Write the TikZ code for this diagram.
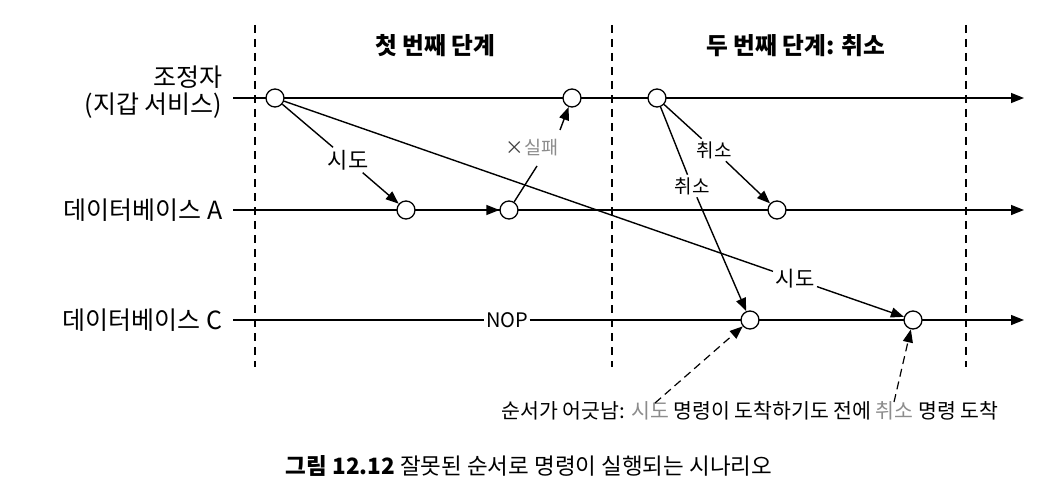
\documentclass[tikz,border=0pt]{standalone}
\usepackage{fontspec}
\setmainfont{Noto Sans CJK KR}
\usetikzlibrary{arrows.meta}
\definecolor{faded}{gray}{0.55}
\begin{document}
\begin{tikzpicture}[x=1pt,y=-1pt,
  line width=1.4pt,
  ev/.style={circle,draw,fill=white,minimum size=18pt,inner sep=0pt,line width=1.3pt},
  arr/.style={-{Triangle[length=13pt,width=10pt]}},
  lbl/.style={font=\fontsize{25}{27}\selectfont, inner sep=0pt},
  msg/.style={font=\fontsize{#1}{#1}\selectfont, inner sep=2pt},
  msg/.default=20,
  phase/.style={dash pattern=on 8pt off 6pt, line width=1.2pt},
  hint/.style={dash pattern=on 8pt off 5pt, line width=1.2pt},
  head/.style={font=\fontsize{23.7}{26}\selectfont\bfseries}]
\useasboundingbox (0,0) rectangle (1048,500);

% phase separators
\coordinate (p1t) at (255,25); \coordinate (p1b) at (255,367);
\coordinate (p2t) at (612,25); \coordinate (p2b) at (612,367);
\coordinate (p3t) at (966,25); \coordinate (p3b) at (966,367);
\draw[phase] (p1t) -- (p1b);
\draw[phase] (p2t) -- (p2b);
\draw[phase] (p3t) -- (p3b);

% headers
\node[head] (h1) at (435,46) {첫 번째 단계};
\node[head] (h2) at (796,46) {두 번째 단계: 취소};

% lane labels
\node[lbl, anchor=east, align=right] (l1) at (223,92) {조정자\\(지갑 서비스)};
\node[lbl, anchor=east] (l2) at (223,210) {데이터베이스 A};
\node[lbl, anchor=east] (l3) at (223,320) {데이터베이스 C};

% lanes
\coordinate (s1) at (233,98);  \coordinate (e1) at (1024,98);
\coordinate (s2) at (233,210); \coordinate (e2) at (1024,210);
\coordinate (s3) at (233,320); \coordinate (e3) at (1024,320);
\draw[arr] (s1) -- (e1);
\draw[arr] (s2) -- (e2);
\node[msg=20, inner sep=1pt] (nop) at (507,320) {NOP};
\draw (s3) -- (nop.west);
\draw[arr] (nop.east) -- (e3);

% events
\node[ev] (c1) at (275,98) {};
\node[ev] (c2) at (572,98) {};
\node[ev] (c3) at (657,98) {};
\node[ev] (a1) at (406,210) {};
\node[ev] (a2) at (509,210) {};
\node[ev] (a3) at (777,210) {};
\node[ev] (d1) at (750,320) {};
\node[ev] (d2) at (913,320) {};

% first phase messages
\node[msg=22] (t1) at (348,160) {시도};
\draw (c1) -- (t1);
\draw[arr] (t1) -- (a1);

\draw[arr] (a1) -- (a2);

\node[msg=21] (t2) at (795,279) {시도};
\draw (c1) -- (t2);
\draw[arr] (t2) -- (d2);

\node[msg=18.5, text=faded] (f) at (532,148) {{\color{black!75}×}실패};
\coordinate (f1) at (537,166);
\coordinate (f2) at (560,130);
\draw (a2) -- (f1);
\draw[arr] (f2) -- (c2);

% second phase messages
\node[msg=19] (k1) at (714,150) {취소};
\draw (c3) -- (k1);
\draw[arr] (k1) -- (a3);

\node[msg=19] (k2) at (692,186) {취소};
\draw (c3) -- (k2);
\draw[arr] (k2) -- (d1);

% note
\node[msg=20.5] (note) at (750,411) {순서가 어긋남: {\color{faded}시도} 명령이 도착하기도 전에 {\color{faded}취소} 명령 도착};
\coordinate (n1) at (655,403);
\coordinate (n2) at (894,402);
\draw[hint, arr] (n1) -- (d1);
\draw[hint, arr] (n2) -- (d2);

% caption
\node[font=\fontsize{22.5}{24}\selectfont] (cap) at (529,466) {\textbf{그림 12.12} 잘못된 순서로 명령이 실행되는 시나리오};
\end{tikzpicture}
\end{document}
